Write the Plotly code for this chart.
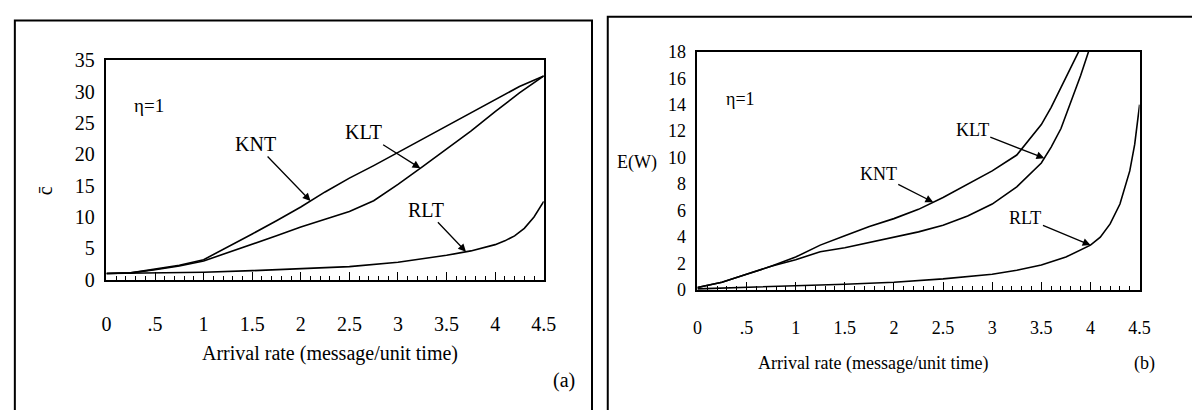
import numpy as np
import plotly.graph_objects as go

W, H = 1192, 410

# ---------------- data: panel (a) mean number c-bar ----------------
xa = [0, 0.25, 0.5, 0.75, 1, 1.25, 1.5, 1.75, 2, 2.25, 2.5, 2.75, 3, 3.25, 3.5, 3.75, 4, 4.25, 4.5]
knt_a = [1.0, 1.1, 1.7, 2.3, 3.2, 5.2, 7.3, 9.4, 11.6, 14.0, 16.2, 18.2, 20.3, 22.4, 24.6, 26.7, 28.8, 30.8, 32.5]
klt_a = [1.0, 1.1, 1.6, 2.2, 3.0, 4.3, 5.6, 7.0, 8.4, 9.6, 10.9, 12.6, 15.2, 18.0, 20.8, 23.7, 26.8, 29.8, 32.5]
xr_a = [0, 0.5, 1, 1.5, 2, 2.5, 3, 3.25, 3.5, 3.75, 4, 4.1, 4.2, 4.3, 4.4, 4.5]
rlt_a = [1.0, 1.05, 1.2, 1.45, 1.75, 2.1, 2.8, 3.3, 3.9, 4.6, 5.6, 6.2, 7.0, 8.2, 10.0, 12.5]

# ---------------- data: panel (b) mean waiting time E(W) ----------------
xk_b = [0, 0.25, 0.5, 0.75, 1, 1.25, 1.5, 1.75, 2, 2.25, 2.5, 2.75, 3, 3.25, 3.5, 3.6, 3.7, 3.8, 3.88]
knt_b = [0.2, 0.6, 1.2, 1.8, 2.5, 3.4, 4.1, 4.8, 5.4, 6.1, 7.0, 8.0, 9.0, 10.2, 12.5, 13.8, 15.3, 16.8, 18.0]
xl_b = [0, 0.25, 0.5, 0.75, 1, 1.25, 1.5, 1.75, 2, 2.25, 2.5, 2.75, 3, 3.25, 3.5, 3.6, 3.7, 3.8, 3.9, 3.98]
klt_b = [0.2, 0.6, 1.2, 1.8, 2.3, 2.9, 3.2, 3.6, 4.0, 4.4, 4.9, 5.6, 6.5, 7.8, 9.6, 10.8, 12.2, 14.2, 16.2, 18.0]
xr_b = [0, 0.5, 1, 1.5, 2, 2.5, 3, 3.25, 3.5, 3.75, 4, 4.1, 4.2, 4.3, 4.4, 4.45, 4.5]
rlt_b = [0.1, 0.2, 0.3, 0.45, 0.6, 0.85, 1.2, 1.5, 1.9, 2.5, 3.4, 4.0, 5.0, 6.5, 9.0, 11.0, 14.0]

# tick labels
xtick_vals = [0, 0.5, 1, 1.5, 2, 2.5, 3, 3.5, 4, 4.5]
xtick_text = ["0", ".5", "1", "1.5", "2", "2.5", "3", "3.5", "4", "4.5"]
ytick_a = [0, 5, 10, 15, 20, 25, 30, 35]
ytick_b = [0, 2, 4, 6, 8, 10, 12, 14, 16, 18]

SERIF = "Liberation Serif, Times New Roman, serif"


def px(x):
    return x / W


def py(y):
    return 1 - y / H


fig = go.Figure()
line = dict(color="black", width=1.6)
fig.add_trace(go.Scatter(x=xa, y=knt_a, mode="lines", line=line, xaxis="x", yaxis="y", name="KNT"))
fig.add_trace(go.Scatter(x=xa, y=klt_a, mode="lines", line=line, xaxis="x", yaxis="y", name="KLT"))
fig.add_trace(go.Scatter(x=xr_a, y=rlt_a, mode="lines", line=line, xaxis="x", yaxis="y", name="RLT"))
fig.add_trace(go.Scatter(x=xk_b, y=knt_b, mode="lines", line=line, xaxis="x2", yaxis="y2", name="KNT"))
fig.add_trace(go.Scatter(x=xl_b, y=klt_b, mode="lines", line=line, xaxis="x2", yaxis="y2", name="KLT"))
fig.add_trace(go.Scatter(x=xr_b, y=rlt_b, mode="lines", line=line, xaxis="x2", yaxis="y2", name="RLT"))


def xaxis(domain, size, standoff):
    return dict(domain=domain, range=[0, 4.5], showline=True, mirror=True, linecolor="black",
                linewidth=1.6, showgrid=False, zeroline=False, ticks="inside", ticklen=8,
                tickcolor="black", tickwidth=1.2, tickmode="array", tickvals=xtick_vals,
                ticktext=xtick_text, tickfont=dict(family=SERIF, size=size, color="black"),
                ticklabelstandoff=standoff,
                minor=dict(tickmode="linear", tick0=0, dtick=0.1, ticks="inside", ticklen=4,
                           tickcolor="black", tickwidth=1, showgrid=False))


def yaxis(domain, rng, vals, size, xanchor):
    return dict(domain=domain, range=rng, showline=True, mirror=True, linecolor="black",
                linewidth=1.6, showgrid=False, zeroline=False, ticks="", tickmode="array",
                tickvals=vals, tickfont=dict(family=SERIF, size=size, color="black"),
                ticklabelstandoff=6, anchor=xanchor)


fig.update_layout(
    width=W, height=H, margin=dict(l=0, r=0, t=0, b=0),
    paper_bgcolor="white", plot_bgcolor="white", showlegend=False,
    xaxis=dict(xaxis([px(103), px(547)], 20, 25), anchor="y"),
    yaxis=yaxis([py(284), py(52)], [0, 35], ytick_a, 20, "x"),
    xaxis2=dict(xaxis([px(703), px(1152)], 18, 20), anchor="y2"),
    yaxis2=yaxis([py(295), py(43)], [0, 18], ytick_b, 18, "x2"),
)

# panel frames
fig.add_shape(type="rect", xref="paper", yref="paper", x0=px(10), x1=px(596), y0=-0.2, y1=py(10),
              line=dict(color="black", width=2))
fig.add_shape(type="rect", xref="paper", yref="paper", x0=px(612), x1=1.2, y0=-0.2, y1=py(6),
              line=dict(color="black", width=2))

ann = []
tf = dict(family=SERIF, size=20, color="black")
tfb = dict(family=SERIF, size=18, color="black")


def label(xr, yr, x, y, text, font, angle=0):
    ann.append(dict(xref=xr, yref=yr, x=x, y=y, text=text, showarrow=False, font=font,
                    xanchor="center", yanchor="middle", textangle=angle))


label("x", "y", 0.44, 27.7, "η=1", dict(family=SERIF, size=19, color="black"))
label("x2", "y2", 0.44, 14.4, "η=1", tfb)
label("paper", "paper", px(40), py(190), "c\u0304", tf, -90)
label("paper", "paper", px(642), py(160), "E(W)", tfb)
label("paper", "paper", px(330), py(362), "Arrival rate (message/unit time)", tf)
label("paper", "paper", px(881), py(372), "Arrival rate (message/unit time)", tfb)
label("paper", "paper", px(568), py(390), "(a)", tf)
label("paper", "paper", px(1157), py(372), "(b)", tfb)


def arrow(xr, yr, xs, ys, at, text, dx, dy, font):
    ann.append(dict(xref=xr, yref=yr, x=at, y=float(np.interp(at, xs, ys)), text=text,
                    showarrow=True, arrowhead=2, arrowsize=1.2, arrowwidth=1.3, arrowcolor="black",
                    ax=dx, ay=dy, font=font, standoff=0))


arrow("x", "y", xa, knt_a, 2.1, "KNT", -55, -57, tf)
arrow("x", "y", xa, klt_a, 3.23, "KLT", -57, -36, tf)
arrow("x", "y", xr_a, rlt_a, 3.7, "RLT", -40, -42, tf)
arrow("x2", "y2", xk_b, knt_b, 2.4, "KNT", -55, -28, tfb)
arrow("x2", "y2", xl_b, klt_b, 3.53, "KLT", -72, -28, tfb)
arrow("x2", "y2", xr_b, rlt_b, 4.0, "RLT", -65, -27, tfb)

fig.update_layout(annotations=ann)
fig.write_html("out.html")
